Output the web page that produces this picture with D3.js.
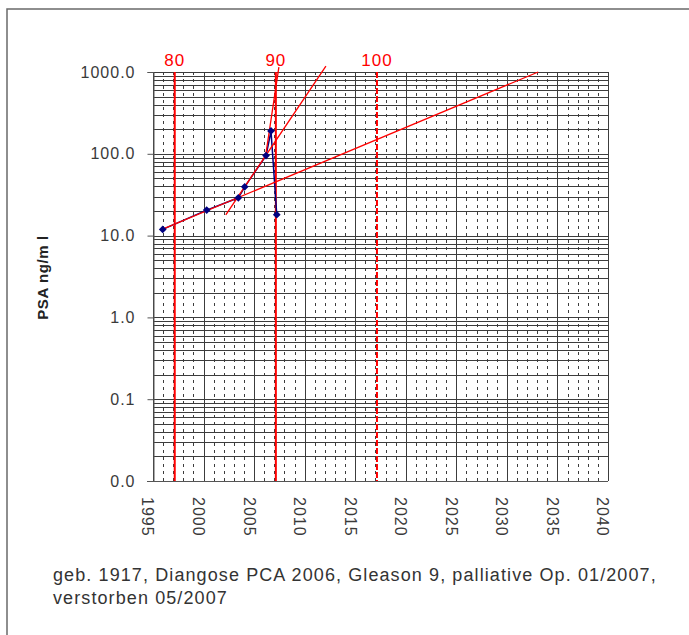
<!DOCTYPE html>
<html>
<head>
<meta charset="utf-8">
<script src="https://cdn.jsdelivr.net/npm/d3@7"></script>
<style>
  html, body { margin: 0; padding: 0; background: #fff; }
  svg { display: block; font-family: Arial, "Liberation Sans", sans-serif; }
</style>
</head>
<body>
<svg id="chart" width="689" height="635"></svg>
<script>
// PSA measurements (ng/ml) over time
const years = [1995.96, 2000.31, 2003.44, 2004.07, 2006.18, 2006.67, 2007.24];
const psa   = [11.9, 20.5, 29, 39.5, 95, 190, 18];

// exponential trend lines (start / end in year and PSA)
const trendX0 = [1995.9, 2002.2, 2006.1];
const trendX1 = [2033.1, 2012.1, 2007.45];
const trendY0 = [11.9, 17.9, 88];
const trendY1 = [1000, 1180, 1150];

// age markers
const birthYear = 1917.15;
const ages = [80, 90, 100];
const ageDashed = [false, false, true];

// axis ticks
const yearTicks = [1995, 2000, 2005, 2010, 2015, 2020, 2025, 2030, 2035, 2040];
const psaTicks = [0.01, 0.1, 1, 10, 100, 1000];
const psaTickLabels = ["0.0", "0.1", "1.0", "10.0", "100.0", "1000.0"];

const caption = [
  "geb. 1917, Diangose PCA 2006, Gleason 9, palliative Op. 01/2007,",
  "verstorben 05/2007"
];

const svg = d3.select("#chart");
const margin = { left: 153, right: 81, top: 72, bottom: 154 };
const W = 689, H = 635;

const x = d3.scaleLinear().domain([1995, 2040]).range([margin.left, W - margin.right]);
const y = d3.scaleLog().domain([0.01, 1000]).range([H - margin.bottom, margin.top]);

// outer frame
svg.append("rect")
  .attr("x", 7).attr("y", 9).attr("width", 700).attr("height", 700)
  .attr("fill", "none").attr("stroke", "#6a6a6a").attr("stroke-width", 1.5);

const gridColor = "#3c3c3c";
const labelColor = "#3a3a3a";

// horizontal log grid
const minor = [];
for (let e = -2; e < 3; e++) for (let m = 1; m <= 9; m++) minor.push(m * Math.pow(10, e));
minor.push(1000);
svg.append("g").selectAll("line").data(minor).join("line")
  .attr("x1", x(1995)).attr("x2", x(2040))
  .attr("y1", d => Math.round(y(d)) + 0.5).attr("y2", d => Math.round(y(d)) + 0.5)
  .attr("stroke", gridColor).attr("stroke-width", 1);

// yearly dashed verticals
const yearly = d3.range(1996, 2040).filter(v => v % 5 !== 0);
svg.append("g").selectAll("line").data(yearly).join("line")
  .attr("x1", d => Math.round(x(d)) + 0.5).attr("x2", d => Math.round(x(d)) + 0.5)
  .attr("y1", y(1000)).attr("y2", y(0.01))
  .attr("stroke", gridColor).attr("stroke-width", 1).attr("stroke-dasharray", "3,4");

// five-year solid verticals
svg.append("g").selectAll("line").data(yearTicks).join("line")
  .attr("x1", d => Math.round(x(d)) + 0.5).attr("x2", d => Math.round(x(d)) + 0.5)
  .attr("y1", y(1000)).attr("y2", y(0.01))
  .attr("stroke", gridColor).attr("stroke-width", 1);

// y axis
const yAxis = d3.axisLeft(y).tickValues(psaTicks)
  .tickFormat((d, i) => psaTickLabels[i]).tickSize(6).tickPadding(12);
const ga = svg.append("g").attr("transform", `translate(${margin.left + 0.5},0)`).call(yAxis);
ga.select(".domain").attr("stroke", "#555");
ga.selectAll(".tick line").attr("stroke", "#555");
ga.selectAll("text").attr("font-size", 16).attr("fill", labelColor)
  .attr("letter-spacing", "1px")
  .attr("font-family", "Arial, 'Liberation Sans', sans-serif");

// x axis baseline
svg.append("line")
  .attr("x1", x(1995) - 6).attr("x2", x(2040))
  .attr("y1", Math.round(y(0.01)) + 0.5).attr("y2", Math.round(y(0.01)) + 0.5)
  .attr("stroke", "#555").attr("stroke-width", 1.2);

// x labels, rotated
svg.append("g").selectAll("text").data(yearTicks).join("text")
  .attr("transform", d => `translate(${x(d) - 5},${y(0.01) + 16}) rotate(90)`)
  .attr("dy", "0.35em")
  .attr("font-size", 16).attr("fill", labelColor)
  .attr("letter-spacing", "1px")
  .text(d => d);

// y title
svg.append("text")
  .attr("transform", `translate(43,${(y(1000) + y(0.01)) / 2 + 1}) rotate(-90)`)
  .attr("text-anchor", "middle").attr("dy", "0.35em")
  .attr("font-size", 15).attr("font-weight", "bold").attr("fill", "#222")
  .attr("letter-spacing", "0.6px")
  .text("PSA ng/m l");

// age lines
svg.append("g").selectAll("line").data(ages).join("line")
  .attr("x1", d => x(birthYear + d)).attr("x2", d => x(birthYear + d))
  .attr("y1", y(1000)).attr("y2", y(0.01))
  .attr("stroke", "#ff0000").attr("stroke-width", 2)
  .attr("stroke-dasharray", (d, i) => ageDashed[i] ? "6,2" : null);
svg.append("g").selectAll("text").data(ages).join("text")
  .attr("x", d => x(birthYear + d)).attr("y", 60)
  .attr("text-anchor", "middle").attr("dy", "0.35em")
  .attr("font-size", 17).attr("fill", "#ff0000")
  .attr("letter-spacing", "1px")
  .text(d => d);

// data line
const pts = years.map((t, i) => [t, psa[i]]);
svg.append("path")
  .datum(pts)
  .attr("d", d3.line().x(d => x(d[0])).y(d => y(d[1])))
  .attr("fill", "none").attr("stroke", "#000080").attr("stroke-width", 1.5);

// trend lines
svg.append("g").selectAll("line").data(trendX0).join("line")
  .attr("x1", (d, i) => x(trendX0[i])).attr("y1", (d, i) => y(trendY0[i]))
  .attr("x2", (d, i) => x(trendX1[i])).attr("y2", (d, i) => y(trendY1[i]))
  .attr("stroke", "#ff0000").attr("stroke-width", 1.3);

// markers
svg.append("g").selectAll("path").data(pts).join("path")
  .attr("transform", d => `translate(${x(d[0])},${y(d[1])}) rotate(45)`)
  .attr("d", d3.symbol(d3.symbolSquare, 30))
  .attr("fill", "#000080");

// caption
svg.append("g").selectAll("text").data(caption).join("text")
  .attr("x", 53).attr("y", (d, i) => 581 + i * 23)
  .attr("font-size", 18).attr("fill", "#333")
  .attr("letter-spacing", "1.1px")
  .text(d => d);
</script>
</body>
</html>
